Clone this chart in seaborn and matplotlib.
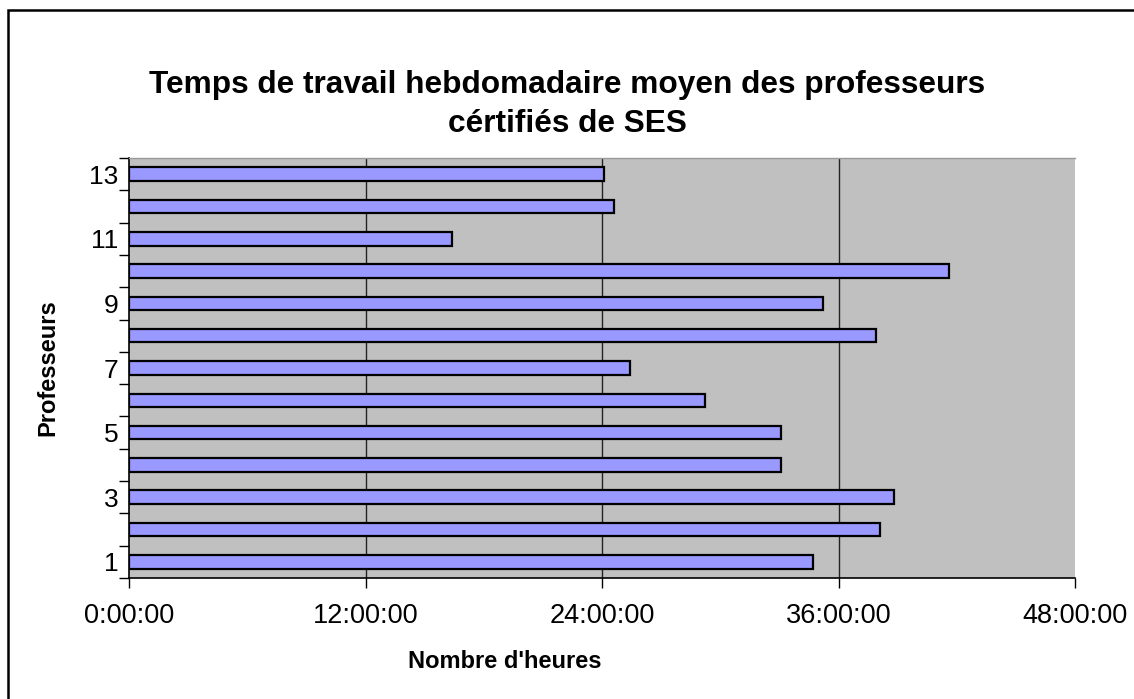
## Temps de travail hebdomadaire - professeurs de SES

import pandas as pd
import numpy as np
import matplotlib.pyplot as plt
import matplotlib.ticker as mticker
from matplotlib.patches import Rectangle
import seaborn as sns

## Data (hours per week)
professeurs = ["1", "2", "3", "4", "5", "6", "7", "8", "9", "10", "11", "12", "13"]
heures = [34.7, 38.1, 38.8, 33.1, 33.1, 29.2, 25.4, 37.9, 35.2, 41.6, 16.4, 24.6, 24.1]
tick_labels = ["13", "11", "9", "7", "5", "3", "1"]

df = pd.DataFrame({"prof": professeurs, "heures": heures})
order = professeurs[::-1]   # 13 on top

sns.set_style("white")
plt.rcParams['font.family'] = ['Liberation Sans', 'DejaVu Sans']
plt.rcParams.update({"text.color": "black", "axes.labelcolor": "black",
                     "xtick.color": "black", "ytick.color": "black"})

fig = plt.figure(figsize=(11.34, 6.99), dpi=100)
ax = fig.add_axes([129.3 / 1134, 1 - 578 / 699, 945.6 / 1134, 420 / 699])
ax.set_facecolor("#C0C0C0")

sns.barplot(data=df, x="heures", y="prof", order=order, orient="h",
            color="#9999FF", saturation=1, edgecolor="black", linewidth=1.6,
            width=0.42, errorbar=None, ax=ax, zorder=3)

## x axis
ax.set_xlim(0, 48)
ax.set_xticks([0, 12, 24, 36, 48])
ax.xaxis.set_major_formatter(mticker.FuncFormatter(lambda v, p: "%d:00:00" % v))
for g in [12, 24, 36]:
    ax.axvline(g, color="#222222", lw=1, zorder=1)

## y axis : labels every other teacher, ticks between categories
ax.set_ylim(12.5, -0.5)
ax.set_yticks(np.arange(0, 13, 2))
ax.set_yticklabels(tick_labels)
ax.set_yticks(np.arange(-0.5, 13, 1), minor=True)
ax.tick_params(axis="y", which="major", length=0, pad=8, labelsize=19, labelcolor="black")
ax.tick_params(axis="y", which="minor", length=7, width=1, color="black", direction="out", left=True)
ax.tick_params(axis="x", which="major", length=7, width=1, color="black", direction="out",
               bottom=True, pad=11, labelsize=19.5, labelcolor="black")
ax.set_xlabel("")
ax.set_ylabel("")

for s in ["left", "bottom"]:
    ax.spines[s].set_color("black")
    ax.spines[s].set_linewidth(1.2)
ax.spines["top"].set_color("#999999")
ax.spines["top"].set_linewidth(1)
ax.spines["right"].set_visible(False)

## texts
fig.text(0.5, 1 - 85 / 699, "Temps de travail hebdomadaire moyen des professeurs",
         ha="center", va="center", fontsize=22.8, fontweight="bold", color="black")
fig.text(0.5, 1 - 124 / 699, "cértifiés de SES",
         ha="center", va="center", fontsize=22.8, fontweight="bold", color="black")
fig.text(505 / 1134, 1 - 662 / 699, "Nombre d'heures",
         ha="center", va="center", fontsize=17, fontweight="bold", color="black")
fig.text(48 / 1134, 1 - 368 / 699, "Professeurs", rotation=90,
         ha="center", va="center", fontsize=17, fontweight="bold", color="black")

## chart border (cropped on the right and bottom)
fig.patches.append(Rectangle((8 / 1134, -0.05), 1.2, 1 - 10 / 699 + 0.05,
                             transform=fig.transFigure, fill=False,
                             edgecolor="black", linewidth=1.8))

fig.savefig("out.png", dpi=100)
